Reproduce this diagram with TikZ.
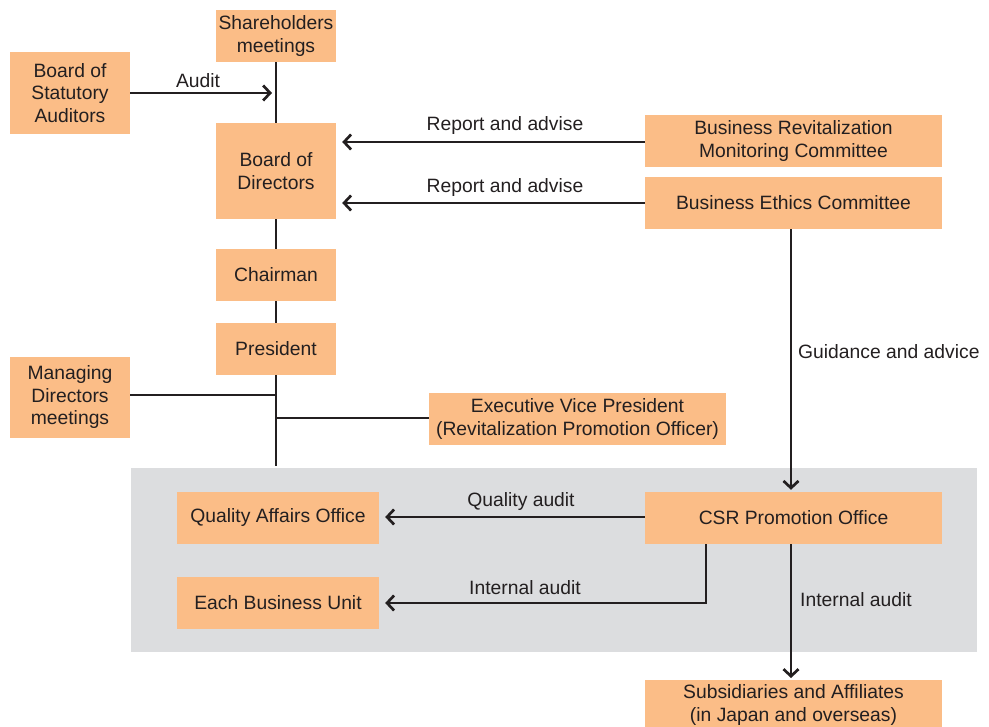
\documentclass[tikz,border=0pt]{standalone}
\usepackage{fontspec}
\setmainfont{Liberation Sans}
\usetikzlibrary{arrows.meta}
\definecolor{boxfill}{HTML}{FBBD87}
\definecolor{panel}{HTML}{DCDDDF}
\definecolor{ink}{HTML}{231F20}
\begin{document}
\begin{tikzpicture}[x=1pt,y=-1pt,
  box/.style={fill=boxfill,inner sep=0pt,align=center,text=ink,font=\fontsize{19.3}{22.5}\selectfont},
  lbl/.style={text=ink,inner sep=0pt,font=\fontsize{19.3}{22.5}\selectfont},
  conn/.style={draw=ink,line width=2.7pt},
  arr/.style={conn,-{Straight Barb[length=7pt,width=15pt,line width=2.7pt]}}]
\useasboundingbox (0,0) rectangle (989,727);
\clip (0,0) rectangle (989,727);
\fill[panel] (131,468) rectangle (977,652);
% nodes
\node[box,minimum width=120pt,minimum height=52pt] (sh) at (276,36) {Shareholders\\meetings};
\node[box,minimum width=120pt,minimum height=82pt] (bsa) at (70,93) {Board of\\Statutory\\Auditors};
\node[box,minimum width=120pt,minimum height=96pt] (bod) at (276,171) {Board of\\Directors};
\node[box,minimum width=120pt,minimum height=52pt] (chair) at (276,275) {Chairman};
\node[box,minimum width=120pt,minimum height=52pt] (pres) at (276,349) {President};
\node[box,minimum width=120pt,minimum height=81pt] (mdm) at (70,397.5) {Managing\\Directors\\meetings};
\node[box,minimum width=297pt,minimum height=52pt] (evp) at (577.5,419) {Executive Vice President\\(Revitalization Promotion Officer)};
\node[box,minimum width=297pt,minimum height=52pt] (brmc) at (793.5,141) {Business Revitalization\\Monitoring Committee};
\node[box,minimum width=297pt,minimum height=52pt] (bec) at (793.5,203) {Business Ethics Committee};
\node[box,minimum width=202pt,minimum height=52pt] (qao) at (278,518) {Quality Affairs Office};
\node[box,minimum width=202pt,minimum height=52pt] (ebu) at (278,603) {Each Business Unit};
\node[box,minimum width=297pt,minimum height=52pt] (csr) at (793.5,518) {CSR Promotion Office};
\node[box,minimum width=297pt,minimum height=50pt,anchor=north] (sub) at (793.5,680) {Subsidiaries and Affiliates\\(in Japan and overseas)};
% coordinates
\coordinate (auditEnd) at (272,93);
\coordinate (spineEnd) at (276,466);
\coordinate (mdmJ) at (276,395);
\coordinate (evpJ) at (276,418);
% spine
\draw[conn] (sh.south) -- (bod.north);
\draw[conn] (bod.south) -- (chair.north);
\draw[conn] (chair.south) -- (pres.north);
\draw[conn] (pres.south) -- (spineEnd);
\draw[conn] (mdm.east |- mdmJ) -- (mdmJ);
\draw[conn] (evpJ) -- (evp.west |- evpJ);
% arrows
\draw[arr] (bsa.east |- auditEnd) -- (auditEnd);
\draw[arr,shorten >=6pt] (brmc.west |- 0,142) -- (bod.east |- 0,142);
\draw[arr,shorten >=6pt] (bec.west) -- (bod.east |- bec.west);
\draw[arr,shorten >=2pt] (bec.south -| 791,0) -- (csr.north -| 791,0);
\draw[arr,shorten >=6pt] (csr.west |- 0,517) -- (qao.east |- 0,517);
\draw[arr,shorten >=6pt] ([xshift=-87.5pt]csr.south) |- (ebu.east);
\draw[arr,shorten >=2pt] (csr.south -| 791,0) -- (sub.north -| 791,0);
% labels
\node[lbl] (lAudit) at (198,81) {Audit};
\node[lbl] (lRep1) at (505,126) {Report and advise};
\node[lbl] (lRep2) at (505,188) {Report and advise};
\node[lbl,anchor=west] (lGuid) at (798,352) {Guidance and advice};
\node[lbl] (lQual) at (521,502) {Quality audit};
\node[lbl] (lInt1) at (525,588) {Internal audit};
\node[lbl,anchor=west] (lInt2) at (800,600) {Internal audit};
\end{tikzpicture}
\end{document}
